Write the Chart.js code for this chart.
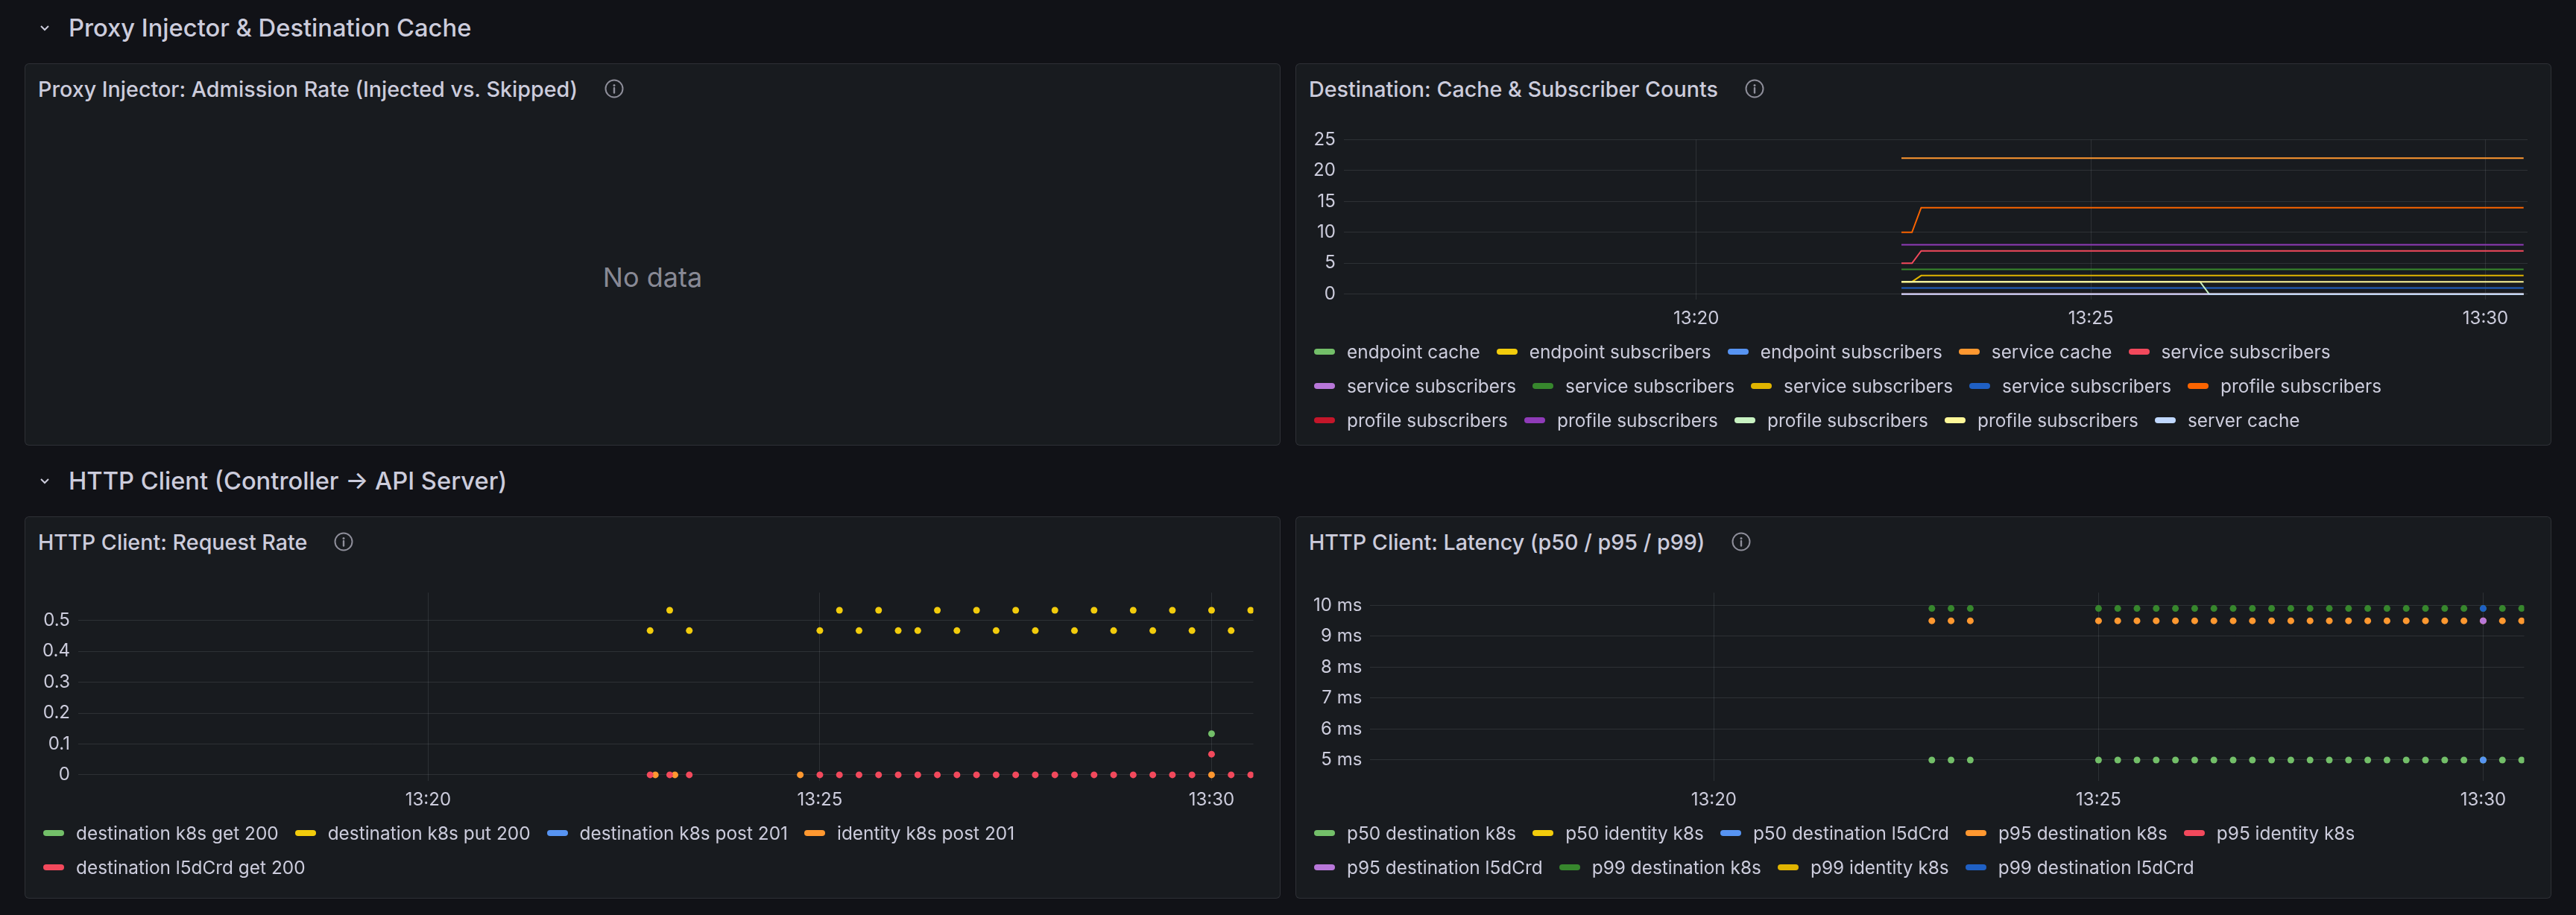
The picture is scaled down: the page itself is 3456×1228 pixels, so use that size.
<!DOCTYPE html>
<html lang="en">
<head>
    <meta charset="UTF-8">
    <title>Linkerd Control Plane - Dashboard</title>
    <script src="https://cdn.jsdelivr.net/npm/chart.js@4.4.1/dist/chart.umd.min.js"></script>
    <style>
        * {
            margin: 0;
            padding: 0;
            box-sizing: border-box;
            font-family: 'Inter', 'Noto Sans', sans-serif;
        }

        body {
            width: 3456px;
            height: 1228px;
            overflow: hidden;
            background: #111217;
            color: #ccccdc;
            padding: 0 33px;
        }

        .row-title {
            height: 74px;
            margin-bottom: 11px;
            display: flex;
            align-items: center;
            padding-left: 20px;
            font-size: 32.7px;
            font-weight: 500;
        }

        .row-title.second {
            margin-top: 10px;
        }

        .row-title svg {
            width: 14px;
            height: 9px;
            margin-right: 25px;
        }

        .panels {
            display: grid;
            grid-template-columns: 1fr 1fr;
            gap: 20px;
            height: 513px;
        }

        .panel {
            position: relative;
            background: #181b1f;
            border: 1px solid rgba(204, 204, 220, 0.12);
            border-radius: 6px;
        }

        .panel-title {
            position: absolute;
            left: 17px;
            top: 13px;
            height: 40px;
            display: flex;
            align-items: center;
            font-size: 28.7px;
            font-weight: 500;
            white-space: nowrap;
        }

        .panel-title svg {
            margin-left: 36px;
            width: 26px;
            height: 26px;
        }

        .no-data {
            position: absolute;
            left: 0;
            right: 0;
            top: 264px;
            height: 44px;
            line-height: 44px;
            text-align: center;
            font-size: 36px;
            color: rgba(204, 204, 220, 0.65);
        }

        .chart-box {
            position: absolute;
            left: 12px;
            right: 31px;
            top: 76px;
        }

        .legend {
            position: absolute;
            left: 24px;
            right: 14px;
            display: flex;
            flex-wrap: wrap;
            font-size: 24.4px;
            line-height: 46px;
        }

        .legend-item {
            display: flex;
            align-items: center;
            margin-right: 22px;
            white-space: nowrap;
        }

        .swatch {
            width: 28px;
            height: 8px;
            border-radius: 4px;
            margin-right: 16px;
        }
    </style>
</head>
<body>
    <div class="row-title">
        <svg viewBox="0 0 14 9"><polyline points="2,2 7,7 12,2" fill="none" stroke="#ccccdc" stroke-width="2"/></svg>
        Proxy Injector &amp; Destination Cache
    </div>
    <div class="panels">
        <div class="panel">
            <div class="panel-title">Proxy Injector: Admission Rate (Injected vs. Skipped)<svg viewBox="0 0 26 26"><circle cx="13" cy="13" r="11.5" fill="none" stroke="#8e8e9a" stroke-width="2"/><circle cx="13" cy="8.5" r="1.5" fill="#8e8e9a"/><line x1="13" y1="12" x2="13" y2="18.5" stroke="#8e8e9a" stroke-width="2.4" stroke-linecap="round"/></svg></div>
            <div class="no-data">No data</div>
        </div>
        <div class="panel">
            <div class="panel-title">Destination: Cache &amp; Subscriber Counts<svg viewBox="0 0 26 26"><circle cx="13" cy="13" r="11.5" fill="none" stroke="#8e8e9a" stroke-width="2"/><circle cx="13" cy="8.5" r="1.5" fill="#8e8e9a"/><line x1="13" y1="12" x2="13" y2="18.5" stroke="#8e8e9a" stroke-width="2.4" stroke-linecap="round"/></svg></div>
            <div class="chart-box" style="height: 291px;"><canvas id="cacheChart"></canvas></div>
            <div class="legend" id="cacheLegend" style="top: 363px;"></div>
        </div>
    </div>

    <div class="row-title second">
        <svg viewBox="0 0 14 9"><polyline points="2,2 7,7 12,2" fill="none" stroke="#ccccdc" stroke-width="2"/></svg>
        HTTP Client (Controller → API Server)
    </div>
    <div class="panels">
        <div class="panel">
            <div class="panel-title">HTTP Client: Request Rate<svg viewBox="0 0 26 26"><circle cx="13" cy="13" r="11.5" fill="none" stroke="#8e8e9a" stroke-width="2"/><circle cx="13" cy="8.5" r="1.5" fill="#8e8e9a"/><line x1="13" y1="12" x2="13" y2="18.5" stroke="#8e8e9a" stroke-width="2.4" stroke-linecap="round"/></svg></div>
            <div class="chart-box" style="height: 329px;"><canvas id="rateChart"></canvas></div>
            <div class="legend" id="rateLegend" style="top: 401px;"></div>
        </div>
        <div class="panel">
            <div class="panel-title">HTTP Client: Latency (p50 / p95 / p99)<svg viewBox="0 0 26 26"><circle cx="13" cy="13" r="11.5" fill="none" stroke="#8e8e9a" stroke-width="2"/><circle cx="13" cy="8.5" r="1.5" fill="#8e8e9a"/><line x1="13" y1="12" x2="13" y2="18.5" stroke="#8e8e9a" stroke-width="2.4" stroke-linecap="round"/></svg></div>
            <div class="chart-box" style="height: 329px;"><canvas id="latencyChart"></canvas></div>
            <div class="legend" id="latencyLegend" style="top: 401px;"></div>
        </div>
    </div>

    <script>
        // time window (last 15 minutes) and x ticks
        const X_MIN = '13:15:32';
        const X_MAX = '13:30:32';
        const X_TICKS = ['13:20:00', '13:25:00', '13:30:00'];

        // 15s scrape points used by the HTTP client panels
        const SCRAPE_TIMES = ['13:22:50', '13:23:05', '13:23:20',
            '13:25:00', '13:25:15', '13:25:30', '13:25:45', '13:26:00', '13:26:15', '13:26:30', '13:26:45',
            '13:27:00', '13:27:15', '13:27:30', '13:27:45', '13:28:00', '13:28:15', '13:28:30', '13:28:45',
            '13:29:00', '13:29:15', '13:29:30', '13:29:45', '13:30:00', '13:30:15', '13:30:30'];

        // Destination: Cache & Subscriber Counts
        const CACHE_NAMES = ['endpoint cache', 'endpoint subscribers', 'endpoint subscribers', 'service cache',
            'service subscribers', 'service subscribers', 'service subscribers', 'service subscribers',
            'service subscribers', 'profile subscribers', 'profile subscribers', 'profile subscribers',
            'profile subscribers', 'profile subscribers', 'server cache'];
        const CACHE_COLORS = ['#73BF69', '#F2CC0C', '#5794F2', '#FF9830', '#F2495C', '#B877D9', '#37872D', '#E0B400',
            '#1F60C4', '#FA6400', '#C4162A', '#8F3BB8', '#C8F2C2', '#FFF899', '#C0D8FF'];
        const CACHE_TIMES = ['13:22:36', '13:22:44', '13:22:51', '13:26:23', '13:26:30', '13:30:29'];
        const CACHE_VALUES = [
            [0, 0, 0, 0, 0, 0],
            [0, 0, 0, 0, 0, 0],
            [0, 0, 0, 0, 0, 0],
            [22, 22, 22, 22, 22, 22],
            [5, 5, 7, 7, 7, 7],
            [0, 0, 0, 0, 0, 0],
            [4, 4, 4, 4, 4, 4],
            [2, 2, 3, 3, 3, 3],
            [1, 1, 1, 1, 1, 1],
            [10, 10, 14, 14, 14, 14],
            [0, 0, 0, 0, 0, 0],
            [8, 8, 8, 8, 8, 8],
            [2, 2, 2, 2, 0, 0],
            [2, 2, 2, 2, 2, 2],
            [0, 0, 0, 0, 0, 0]
        ];
        const CACHE_Y_TICKS = [0, 5, 10, 15, 20, 25];

        // HTTP Client: Request Rate
        const RATE_NAMES = ['destination k8s get 200', 'destination k8s put 200', 'destination k8s post 201',
            'identity k8s post 201', 'destination l5dCrd get 200'];
        const RATE_COLORS = ['#73BF69', '#F2CC0C', '#5794F2', '#FF9830', '#F2495C'];
        const GET200_TIMES = ['13:30:00'];
        const GET200_VALUES = [0.133];
        const PUT200_VALUES = [0.467, 0.533, 0.467,
            0.467, 0.533, 0.467, 0.533, 0.467, 0.467, 0.533, 0.467, 0.533, 0.467, 0.533, 0.467,
            0.533, 0.467, 0.533, 0.467, 0.533, 0.467, 0.533, 0.467, 0.533, 0.467, 0.533];
        const POST201_TIMES = [];
        const POST201_VALUES = [];
        const IDENTITY_TIMES = ['13:22:54', '13:23:09', '13:24:45', '13:30:00'];
        const IDENTITY_VALUES = [0, 0, 0, 0];
        const L5D_GET_VALUES = [0, 0, 0,
            0, 0, 0, 0, 0, 0, 0, 0, 0, 0, 0, 0,
            0, 0, 0, 0, 0, 0, 0, 0, 0.067, 0, 0];
        const RATE_Y_TICKS = [0, 0.1, 0.2, 0.3, 0.4, 0.5];

        // HTTP Client: Latency (ms)
        const LAT_NAMES = ['p50 destination k8s', 'p50 identity k8s', 'p50 destination l5dCrd',
            'p95 destination k8s', 'p95 identity k8s', 'p95 destination l5dCrd',
            'p99 destination k8s', 'p99 identity k8s', 'p99 destination l5dCrd'];
        const LAT_COLORS = ['#73BF69', '#F2CC0C', '#5794F2', '#FF9830', '#F2495C', '#B877D9',
            '#37872D', '#E0B400', '#1F60C4'];
        const P50_K8S = [5, 5, 5, 5, 5, 5, 5, 5, 5, 5, 5, 5, 5, 5, 5, 5, 5, 5, 5, 5, 5, 5, 5, 5, 5, 5];
        const P95_K8S = [9.5, 9.5, 9.5, 9.5, 9.5, 9.5, 9.5, 9.5, 9.5, 9.5, 9.5, 9.5, 9.5,
            9.5, 9.5, 9.5, 9.5, 9.5, 9.5, 9.5, 9.5, 9.5, 9.5, 9.5, 9.5, 9.5];
        const P99_K8S = [9.9, 9.9, 9.9, 9.9, 9.9, 9.9, 9.9, 9.9, 9.9, 9.9, 9.9, 9.9, 9.9,
            9.9, 9.9, 9.9, 9.9, 9.9, 9.9, 9.9, 9.9, 9.9, 9.9, 9.9, 9.9, 9.9];
        const L5D_TIMES = ['13:30:00'];
        const P50_L5D = [5];
        const P95_L5D = [9.5];
        const P99_L5D = [9.9];
        const LAT_Y_TICKS = [5, 6, 7, 8, 9, 10];

        Chart.defaults.font.family = "'Inter', 'Noto Sans', sans-serif";
        Chart.defaults.font.size = 24;
        Chart.defaults.color = '#ccccdc';

        const sec = t => {
            const [h, m, s] = t.split(':').map(Number);
            return h * 3600 + m * 60 + s;
        };
        const hhmm = v => Math.floor(v / 3600) + ':' + String(Math.floor(v % 3600 / 60)).padStart(2, '0');
        const points = (times, values) => times.map((t, i) => ({ x: sec(t), y: values[i] }));
        const GRID = 'rgba(240, 250, 255, 0.1)';

        function buildLegend(id, names, colors) {
            const box = document.getElementById(id);
            names.forEach((name, i) => {
                const item = document.createElement('div');
                item.className = 'legend-item';
                const sw = document.createElement('span');
                sw.className = 'swatch';
                sw.style.background = colors[i];
                item.appendChild(sw);
                item.appendChild(document.createTextNode(name));
                box.appendChild(item);
            });
        }

        function makeChart(id, datasets, yMin, yMax, yTicks, yLabel) {
            // later series are painted on top, as in Grafana
            datasets.forEach((d, i) => { d.order = -i; });
            return new Chart(document.getElementById(id), {
                type: 'scatter',
                data: { datasets: datasets },
                options: {
                    responsive: true,
                    maintainAspectRatio: false,
                    animation: false,
                    events: [],
                    layout: { padding: { top: 17, left: 0, right: 0, bottom: 0 } },
                    plugins: { legend: { display: false }, tooltip: { enabled: false } },
                    scales: {
                        x: {
                            type: 'linear',
                            min: sec(X_MIN),
                            max: sec(X_MAX),
                            afterBuildTicks: axis => { axis.ticks = X_TICKS.map(t => ({ value: sec(t) })); },
                            grid: { color: GRID, drawTicks: false },
                            border: { display: false },
                            ticks: { padding: 11, maxRotation: 0, autoSkip: false, callback: v => hhmm(v) }
                        },
                        y: {
                            min: yMin,
                            max: yMax,
                            afterBuildTicks: axis => { axis.ticks = yTicks.map(v => ({ value: v })); },
                            grid: { color: GRID, drawTicks: false },
                            border: { display: false },
                            ticks: { padding: 11, autoSkip: false, callback: yLabel }
                        }
                    }
                }
            });
        }

        // cache panel: lines
        makeChart('cacheChart', CACHE_VALUES.map((vals, i) => ({
            label: CACHE_NAMES[i],
            data: points(CACHE_TIMES, vals),
            showLine: true,
            borderColor: CACHE_COLORS[i],
            backgroundColor: CACHE_COLORS[i],
            borderWidth: 2,
            pointRadius: 0
        })), -0.9, 25, CACHE_Y_TICKS, v => String(v));
        buildLegend('cacheLegend', CACHE_NAMES, CACHE_COLORS);

        // request rate panel: points
        const rateData = [
            points(GET200_TIMES, GET200_VALUES),
            points(SCRAPE_TIMES, PUT200_VALUES),
            points(POST201_TIMES, POST201_VALUES),
            points(IDENTITY_TIMES, IDENTITY_VALUES),
            points(SCRAPE_TIMES, L5D_GET_VALUES)
        ];
        makeChart('rateChart', rateData.map((d, i) => ({
            label: RATE_NAMES[i],
            data: d,
            backgroundColor: RATE_COLORS[i],
            borderWidth: 0,
            pointRadius: 4.5
        })), -0.02, 0.59, RATE_Y_TICKS, v => String(v));
        buildLegend('rateLegend', RATE_NAMES, RATE_COLORS);

        // latency panel: points
        const latData = [
            points(SCRAPE_TIMES, P50_K8S),
            [],
            points(L5D_TIMES, P50_L5D),
            points(SCRAPE_TIMES, P95_K8S),
            [],
            points(L5D_TIMES, P95_L5D),
            points(SCRAPE_TIMES, P99_K8S),
            [],
            points(L5D_TIMES, P99_L5D)
        ];
        makeChart('latencyChart', latData.map((d, i) => ({
            label: LAT_NAMES[i],
            data: d,
            backgroundColor: LAT_COLORS[i],
            borderWidth: 0,
            pointRadius: 4.5
        })), 4.32, 10.41, LAT_Y_TICKS, v => v + ' ms');
        buildLegend('latencyLegend', LAT_NAMES, LAT_COLORS);
    </script>
</body>
</html>
